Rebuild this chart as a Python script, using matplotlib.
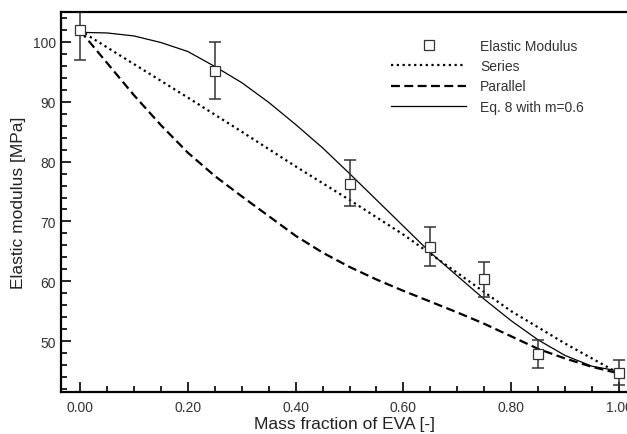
import numpy as np
import matplotlib
matplotlib.use("Agg")
import matplotlib.pyplot as plt
from matplotlib.ticker import MultipleLocator

plt.rcParams['font.family'] = ['Liberation Sans', 'DejaVu Sans']

# measured points (mass fraction of EVA, modulus, error bar ends)
mass_frac = [0.00, 0.25, 0.50, 0.65, 0.75, 0.85, 1.00]
modulus = [102.0, 95.2, 76.3, 65.7, 60.3, 47.8, 44.7]
err_low = [97.0, 90.5, 72.6, 62.5, 57.4, 45.5, 42.6]
err_high = [107.0, 100.0, 80.2, 69.0, 63.3, 50.2, 46.8]

# model curves
series_x = [0.0, 0.1, 0.2, 0.3, 0.4, 0.5, 0.6, 0.7, 0.8, 0.9, 1.0]
series_y = [101.9, 96.3, 90.7, 85.0, 79.2, 73.6, 67.8, 61.4, 55.0, 49.6, 44.6]

parallel_x = [0.0, 0.05, 0.10, 0.15, 0.20, 0.25, 0.30, 0.35, 0.40, 0.45, 0.50,
              0.55, 0.60, 0.65, 0.70, 0.75, 0.80, 0.85, 0.90, 0.95, 1.0]
parallel_y = [101.9, 96.5, 91.1, 86.1, 81.5, 77.6, 74.2, 70.9, 67.6, 64.8, 62.4,
              60.3, 58.4, 56.6, 54.8, 52.9, 50.8, 48.7, 47.1, 45.7, 44.6]

eq8_x = [0.0, 0.05, 0.10, 0.15, 0.20, 0.25, 0.30, 0.35, 0.40, 0.45, 0.50,
         0.55, 0.60, 0.65, 0.70, 0.75, 0.80, 0.85, 0.90, 0.95, 1.0]
eq8_y = [101.6, 101.5, 101.0, 99.9, 98.4, 95.9, 93.2, 89.9, 86.2, 82.3, 78.0,
         73.6, 69.2, 64.8, 60.9, 57.0, 53.4, 50.2, 47.6, 45.8, 45.0]

fig = plt.figure(figsize=(6.27, 4.35), dpi=100)
ax = fig.add_axes([61 / 627, 1 - 393 / 435, (627 - 61) / 627, (393 - 13) / 435])

mod = np.array(modulus)
yerr = [mod - np.array(err_low), np.array(err_high) - mod]
ax.errorbar(mass_frac, modulus, yerr=yerr, fmt='none', ecolor='#333333',
            elinewidth=1.1, capsize=4.5, capthick=1.1, zorder=3)
ax.plot(mass_frac, modulus, linestyle='none', marker='s', markersize=7.5,
        markerfacecolor='white', markeredgecolor='#333333', markeredgewidth=0.9,
        label='Elastic Modulus', zorder=4)

ax.plot(series_x, series_y, color='black', linewidth=1.6,
        linestyle=(0, (1, 1.6)), label='Series', zorder=2)
ax.plot(parallel_x, parallel_y, color='black', linewidth=1.6,
        linestyle=(0, (4, 2)), label='Parallel', zorder=2)
ax.plot(eq8_x, eq8_y, color='black', linewidth=0.9,
        label='Eq. 8 with m=0.6', zorder=2)

ax.set_xlim(-0.0353, 1.0148)
ax.set_ylim(41.5, 105)

ax.xaxis.set_major_locator(MultipleLocator(0.2))
ax.xaxis.set_minor_locator(MultipleLocator(0.05))
ax.yaxis.set_major_locator(MultipleLocator(10))
ax.yaxis.set_minor_locator(MultipleLocator(2))
ax.xaxis.set_major_formatter(plt.FuncFormatter(lambda v, p: f"{v:.2f}"))

ax.tick_params(which='both', direction='in', top=False, right=False,
               labelsize=10, labelcolor='#333333', width=1.2)
ax.tick_params(which='major', length=7)
ax.tick_params(which='minor', length=4)
ax.tick_params(axis='x', pad=6)

for side in ['left', 'bottom', 'top']:
    ax.spines[side].set_linewidth(1.6)
ax.spines['right'].set_visible(False)

ax.set_xlabel('Mass fraction of EVA [-]', fontsize=12.5, color='#222222', labelpad=1)
ax.set_ylabel('Elastic modulus [MPa]', fontsize=12.5, color='#222222', labelpad=5)

ax.legend(loc='upper right', bbox_to_anchor=(0.946, 0.962), frameon=False,
          fontsize=10, handlelength=5.4, handletextpad=1.0, labelspacing=0.45,
          labelcolor='#333333')

fig.savefig('out.png', dpi=100)
